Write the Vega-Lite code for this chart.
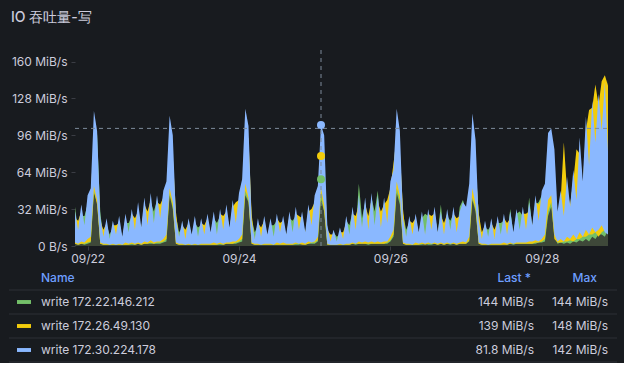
{
  "$schema": "https://vega.github.io/schema/vega-lite/v6.json",
  "background": "#181b1f",
  "padding": {"left": 8, "top": 10, "right": 8, "bottom": 0},
  "autosize": {"type": "pad"},
  "title": {"text": "IO 吞吐量-写", "anchor": "start", "frame": "group", "fontSize": 14, "fontWeight": 500, "color": "#ccccdc", "font": "Inter", "offset": 25, "dx": 2},
  "config": {"font": "Inter", "view": {"stroke": null}},
  "bounds": "flush",
  "spacing": 20,
  "vconcat": [
    {
      "width": 608,
      "height": 196,
      "data": {
        "format": {"parse": {"t": "date:'%m/%d %H'"}},
        "values": [
          {"t":"09/21 20","b":30,"bl":3,"y":24,"yl":2,"g":34,"gl":2},
          {"t":"09/21 21","b":14,"bl":2,"y":22,"yl":1,"g":12,"gl":1},
          {"t":"09/21 22","b":36,"bl":4,"y":30,"yl":2,"g":26,"gl":2},
          {"t":"09/21 23","b":18,"bl":3,"y":16,"yl":2,"g":26,"gl":1},
          {"t":"09/22 00","b":44,"bl":6,"y":38,"yl":3,"g":36,"gl":2},
          {"t":"09/22 01","b":50,"bl":8,"y":46,"yl":4,"g":42,"gl":3},
          {"t":"09/22 02","b":117,"bl":52,"y":92,"yl":48,"g":70,"gl":46},
          {"t":"09/22 03","b":100,"bl":40,"y":84,"yl":36,"g":97,"gl":38},
          {"t":"09/22 04","b":26,"bl":3,"y":22,"yl":2,"g":30,"gl":2},
          {"t":"09/22 05","b":8,"bl":2,"y":14,"yl":1,"g":6,"gl":1},
          {"t":"09/22 06","b":24,"bl":2,"y":20,"yl":1,"g":18,"gl":1},
          {"t":"09/22 07","b":6,"bl":1,"y":4,"yl":1,"g":10,"gl":1},
          {"t":"09/22 08","b":22,"bl":2,"y":18,"yl":1,"g":16,"gl":1},
          {"t":"09/22 09","b":10,"bl":1,"y":18,"yl":1,"g":8,"gl":1},
          {"t":"09/22 10","b":26,"bl":2,"y":20,"yl":1,"g":22,"gl":1},
          {"t":"09/22 11","b":8,"bl":1,"y":6,"yl":1,"g":6,"gl":1},
          {"t":"09/22 12","b":28,"bl":3,"y":24,"yl":1,"g":20,"gl":1},
          {"t":"09/22 13","b":12,"bl":2,"y":10,"yl":1,"g":20,"gl":1},
          {"t":"09/22 14","b":32,"bl":3,"y":28,"yl":2,"g":26,"gl":1},
          {"t":"09/22 15","b":14,"bl":2,"y":24,"yl":1,"g":12,"gl":1},
          {"t":"09/22 16","b":38,"bl":3,"y":30,"yl":2,"g":32,"gl":2},
          {"t":"09/22 17","b":16,"bl":2,"y":14,"yl":1,"g":12,"gl":1},
          {"t":"09/22 18","b":42,"bl":4,"y":36,"yl":2,"g":34,"gl":2},
          {"t":"09/22 19","b":18,"bl":3,"y":30,"yl":2,"g":16,"gl":2},
          {"t":"09/22 20","b":46,"bl":5,"y":40,"yl":3,"g":38,"gl":2},
          {"t":"09/22 21","b":20,"bl":3,"y":18,"yl":2,"g":30,"gl":2},
          {"t":"09/22 22","b":44,"bl":4,"y":38,"yl":3,"g":40,"gl":2},
          {"t":"09/22 23","b":24,"bl":4,"y":36,"yl":3,"g":22,"gl":2},
          {"t":"09/23 00","b":48,"bl":6,"y":42,"yl":4,"g":40,"gl":3},
          {"t":"09/23 01","b":56,"bl":10,"y":50,"yl":6,"g":46,"gl":4},
          {"t":"09/23 02","b":113,"bl":50,"y":89,"yl":46,"g":80,"gl":44},
          {"t":"09/23 03","b":96,"bl":38,"y":78,"yl":34,"g":66,"gl":32},
          {"t":"09/23 04","b":24,"bl":3,"y":30,"yl":2,"g":26,"gl":2},
          {"t":"09/23 05","b":8,"bl":2,"y":6,"yl":1,"g":12,"gl":1},
          {"t":"09/23 06","b":22,"bl":2,"y":18,"yl":1,"g":16,"gl":1},
          {"t":"09/23 07","b":6,"bl":1,"y":14,"yl":1,"g":4,"gl":1},
          {"t":"09/23 08","b":24,"bl":2,"y":20,"yl":1,"g":18,"gl":1},
          {"t":"09/23 09","b":10,"bl":1,"y":8,"yl":1,"g":8,"gl":1},
          {"t":"09/23 10","b":26,"bl":2,"y":22,"yl":1,"g":20,"gl":1},
          {"t":"09/23 11","b":8,"bl":1,"y":6,"yl":1,"g":16,"gl":1},
          {"t":"09/23 12","b":24,"bl":2,"y":20,"yl":1,"g":18,"gl":1},
          {"t":"09/23 13","b":10,"bl":2,"y":18,"yl":1,"g":8,"gl":1},
          {"t":"09/23 14","b":28,"bl":2,"y":24,"yl":1,"g":22,"gl":1},
          {"t":"09/23 15","b":12,"bl":2,"y":10,"yl":1,"g":10,"gl":1},
          {"t":"09/23 16","b":30,"bl":3,"y":26,"yl":1,"g":24,"gl":1},
          {"t":"09/23 17","b":10,"bl":2,"y":8,"yl":1,"g":20,"gl":1},
          {"t":"09/23 18","b":32,"bl":3,"y":28,"yl":2,"g":26,"gl":1},
          {"t":"09/23 19","b":14,"bl":2,"y":26,"yl":1,"g":12,"gl":1},
          {"t":"09/23 20","b":36,"bl":3,"y":30,"yl":2,"g":30,"gl":2},
          {"t":"09/23 21","b":16,"bl":3,"y":14,"yl":2,"g":14,"gl":2},
          {"t":"09/23 22","b":40,"bl":4,"y":34,"yl":2,"g":32,"gl":2},
          {"t":"09/23 23","b":20,"bl":4,"y":38,"yl":3,"g":18,"gl":2},
          {"t":"09/24 00","b":46,"bl":6,"y":40,"yl":4,"g":38,"gl":3},
          {"t":"09/24 01","b":58,"bl":10,"y":50,"yl":6,"g":46,"gl":4},
          {"t":"09/24 02","b":119,"bl":54,"y":88,"yl":48,"g":72,"gl":44},
          {"t":"09/24 03","b":104,"bl":42,"y":94,"yl":40,"g":84,"gl":38},
          {"t":"09/24 04","b":22,"bl":3,"y":28,"yl":2,"g":24,"gl":2},
          {"t":"09/24 05","b":6,"bl":2,"y":4,"yl":1,"g":12,"gl":1},
          {"t":"09/24 06","b":24,"bl":2,"y":20,"yl":1,"g":18,"gl":1},
          {"t":"09/24 07","b":8,"bl":1,"y":16,"yl":1,"g":6,"gl":1},
          {"t":"09/24 08","b":26,"bl":2,"y":22,"yl":1,"g":20,"gl":1},
          {"t":"09/24 09","b":10,"bl":2,"y":8,"yl":1,"g":8,"gl":1},
          {"t":"09/24 10","b":24,"bl":2,"y":20,"yl":1,"g":18,"gl":1},
          {"t":"09/24 11","b":8,"bl":1,"y":6,"yl":1,"g":18,"gl":1},
          {"t":"09/24 12","b":28,"bl":3,"y":24,"yl":1,"g":22,"gl":1},
          {"t":"09/24 13","b":12,"bl":2,"y":20,"yl":1,"g":10,"gl":1},
          {"t":"09/24 14","b":26,"bl":3,"y":22,"yl":1,"g":20,"gl":1},
          {"t":"09/24 15","b":10,"bl":2,"y":8,"yl":1,"g":8,"gl":1},
          {"t":"09/24 16","b":30,"bl":2,"y":26,"yl":1,"g":24,"gl":1},
          {"t":"09/24 17","b":12,"bl":2,"y":10,"yl":1,"g":22,"gl":1},
          {"t":"09/24 18","b":34,"bl":3,"y":28,"yl":2,"g":26,"gl":1},
          {"t":"09/24 19","b":14,"bl":2,"y":26,"yl":2,"g":12,"gl":1},
          {"t":"09/24 20","b":30,"bl":3,"y":24,"yl":1,"g":26,"gl":2},
          {"t":"09/24 21","b":12,"bl":2,"y":10,"yl":1,"g":10,"gl":1},
          {"t":"09/24 22","b":36,"bl":4,"y":30,"yl":2,"g":28,"gl":2},
          {"t":"09/24 23","b":18,"bl":3,"y":32,"yl":3,"g":16,"gl":2},
          {"t":"09/25 00","b":44,"bl":4,"y":38,"yl":3,"g":34,"gl":2},
          {"t":"09/25 01","b":52,"bl":8,"y":46,"yl":5,"g":42,"gl":4},
          {"t":"09/25 02","b":105,"bl":50,"y":78,"yl":46,"g":58,"gl":40},
          {"t":"09/25 03","b":96,"bl":36,"y":70,"yl":30,"g":52,"gl":30},
          {"t":"09/25 04","b":18,"bl":2,"y":14,"yl":1,"g":12,"gl":1},
          {"t":"09/25 05","b":4,"bl":1,"y":10,"yl":1,"g":3,"gl":1},
          {"t":"09/25 06","b":14,"bl":1,"y":10,"yl":1,"g":12,"gl":1},
          {"t":"09/25 07","b":4,"bl":1,"y":3,"yl":1,"g":8,"gl":1},
          {"t":"09/25 08","b":16,"bl":2,"y":12,"yl":1,"g":10,"gl":1},
          {"t":"09/25 09","b":6,"bl":1,"y":12,"yl":1,"g":4,"gl":1},
          {"t":"09/25 10","b":26,"bl":2,"y":20,"yl":1,"g":22,"gl":1},
          {"t":"09/25 11","b":10,"bl":2,"y":8,"yl":1,"g":18,"gl":1},
          {"t":"09/25 12","b":34,"bl":3,"y":28,"yl":2,"g":30,"gl":2},
          {"t":"09/25 13","b":14,"bl":2,"y":26,"yl":2,"g":12,"gl":1},
          {"t":"09/25 14","b":44,"bl":4,"y":36,"yl":2,"g":54,"gl":2},
          {"t":"09/25 15","b":16,"bl":3,"y":14,"yl":2,"g":24,"gl":2},
          {"t":"09/25 16","b":42,"bl":4,"y":36,"yl":2,"g":38,"gl":2},
          {"t":"09/25 17","b":14,"bl":3,"y":26,"yl":2,"g":12,"gl":1},
          {"t":"09/25 18","b":46,"bl":4,"y":40,"yl":2,"g":42,"gl":2},
          {"t":"09/25 19","b":18,"bl":3,"y":16,"yl":2,"g":30,"gl":2},
          {"t":"09/25 20","b":44,"bl":4,"y":38,"yl":2,"g":48,"gl":2},
          {"t":"09/25 21","b":16,"bl":3,"y":30,"yl":2,"g":14,"gl":2},
          {"t":"09/25 22","b":42,"bl":4,"y":36,"yl":2,"g":38,"gl":2},
          {"t":"09/25 23","b":20,"bl":4,"y":40,"yl":3,"g":18,"gl":2},
          {"t":"09/26 00","b":56,"bl":8,"y":50,"yl":5,"g":42,"gl":4},
          {"t":"09/26 01","b":66,"bl":14,"y":72,"yl":10,"g":54,"gl":8},
          {"t":"09/26 02","b":119,"bl":56,"y":94,"yl":50,"g":85,"gl":46},
          {"t":"09/26 03","b":100,"bl":44,"y":82,"yl":40,"g":74,"gl":36},
          {"t":"09/26 04","b":24,"bl":3,"y":32,"yl":2,"g":28,"gl":2},
          {"t":"09/26 05","b":8,"bl":2,"y":6,"yl":1,"g":14,"gl":1},
          {"t":"09/26 06","b":26,"bl":2,"y":22,"yl":1,"g":20,"gl":1},
          {"t":"09/26 07","b":10,"bl":1,"y":20,"yl":1,"g":8,"gl":1},
          {"t":"09/26 08","b":28,"bl":3,"y":24,"yl":1,"g":22,"gl":1},
          {"t":"09/26 09","b":12,"bl":2,"y":10,"yl":1,"g":10,"gl":1},
          {"t":"09/26 10","b":30,"bl":3,"y":26,"yl":2,"g":24,"gl":1},
          {"t":"09/26 11","b":10,"bl":2,"y":8,"yl":1,"g":28,"gl":2},
          {"t":"09/26 12","b":32,"bl":3,"y":28,"yl":2,"g":26,"gl":1},
          {"t":"09/26 13","b":14,"bl":2,"y":26,"yl":2,"g":12,"gl":1},
          {"t":"09/26 14","b":34,"bl":3,"y":28,"yl":2,"g":30,"gl":2},
          {"t":"09/26 15","b":12,"bl":2,"y":10,"yl":1,"g":10,"gl":1},
          {"t":"09/26 16","b":30,"bl":3,"y":26,"yl":2,"g":36,"gl":2},
          {"t":"09/26 17","b":10,"bl":2,"y":20,"yl":1,"g":8,"gl":1},
          {"t":"09/26 18","b":32,"bl":3,"y":28,"yl":2,"g":26,"gl":2},
          {"t":"09/26 19","b":14,"bl":2,"y":12,"yl":2,"g":22,"gl":1},
          {"t":"09/26 20","b":34,"bl":3,"y":28,"yl":2,"g":28,"gl":2},
          {"t":"09/26 21","b":12,"bl":2,"y":24,"yl":1,"g":10,"gl":1},
          {"t":"09/26 22","b":30,"bl":3,"y":26,"yl":2,"g":34,"gl":2},
          {"t":"09/26 23","b":38,"bl":4,"y":32,"yl":2,"g":40,"gl":2},
          {"t":"09/27 00","b":34,"bl":3,"y":28,"yl":2,"g":30,"gl":2},
          {"t":"09/27 01","b":54,"bl":8,"y":46,"yl":5,"g":44,"gl":4},
          {"t":"09/27 02","b":115,"bl":50,"y":78,"yl":42,"g":70,"gl":40},
          {"t":"09/27 03","b":92,"bl":36,"y":70,"yl":32,"g":64,"gl":30},
          {"t":"09/27 04","b":22,"bl":3,"y":28,"yl":2,"g":30,"gl":2},
          {"t":"09/27 05","b":6,"bl":2,"y":12,"yl":1,"g":4,"gl":1},
          {"t":"09/27 06","b":22,"bl":2,"y":18,"yl":1,"g":16,"gl":1},
          {"t":"09/27 07","b":8,"bl":1,"y":6,"yl":1,"g":14,"gl":1},
          {"t":"09/27 08","b":24,"bl":2,"y":20,"yl":1,"g":18,"gl":1},
          {"t":"09/27 09","b":6,"bl":2,"y":14,"yl":1,"g":4,"gl":1},
          {"t":"09/27 10","b":26,"bl":2,"y":22,"yl":1,"g":20,"gl":1},
          {"t":"09/27 11","b":10,"bl":2,"y":8,"yl":1,"g":20,"gl":1},
          {"t":"09/27 12","b":28,"bl":3,"y":24,"yl":1,"g":22,"gl":2},
          {"t":"09/27 13","b":10,"bl":2,"y":20,"yl":1,"g":8,"gl":1},
          {"t":"09/27 14","b":30,"bl":3,"y":24,"yl":2,"g":32,"gl":2},
          {"t":"09/27 15","b":12,"bl":2,"y":10,"yl":2,"g":10,"gl":1},
          {"t":"09/27 16","b":32,"bl":3,"y":26,"yl":2,"g":28,"gl":2},
          {"t":"09/27 17","b":14,"bl":3,"y":12,"yl":2,"g":30,"gl":2},
          {"t":"09/27 18","b":34,"bl":3,"y":28,"yl":2,"g":26,"gl":2},
          {"t":"09/27 19","b":14,"bl":3,"y":28,"yl":2,"g":12,"gl":2},
          {"t":"09/27 20","b":38,"bl":4,"y":30,"yl":2,"g":42,"gl":2},
          {"t":"09/27 21","b":18,"bl":4,"y":16,"yl":2,"g":16,"gl":2},
          {"t":"09/27 22","b":44,"bl":5,"y":38,"yl":3,"g":36,"gl":2},
          {"t":"09/27 23","b":22,"bl":4,"y":36,"yl":3,"g":38,"gl":3},
          {"t":"09/28 00","b":48,"bl":6,"y":42,"yl":4,"g":44,"gl":3},
          {"t":"09/28 01","b":54,"bl":10,"y":48,"yl":6,"g":42,"gl":4},
          {"t":"09/28 02","b":98,"bl":40,"y":72,"yl":30,"g":60,"gl":26},
          {"t":"09/28 03","b":102,"bl":44,"y":89,"yl":38,"g":77,"gl":34},
          {"t":"09/28 04","b":84,"bl":10,"y":44,"yl":6,"g":56,"gl":8},
          {"t":"09/28 05","b":30,"bl":4,"y":26,"yl":3,"g":24,"gl":2},
          {"t":"09/28 06","b":48,"bl":6,"y":40,"yl":3,"g":36,"gl":3},
          {"t":"09/28 07","b":26,"bl":4,"y":90,"yl":4,"g":22,"gl":2},
          {"t":"09/28 08","b":60,"bl":8,"y":48,"yl":4,"g":50,"gl":3},
          {"t":"09/28 09","b":34,"bl":6,"y":36,"yl":5,"g":30,"gl":2},
          {"t":"09/28 10","b":66,"bl":10,"y":56,"yl":4,"g":60,"gl":4},
          {"t":"09/28 11","b":40,"bl":6,"y":84,"yl":6,"g":36,"gl":3},
          {"t":"09/28 12","b":94,"bl":12,"y":80,"yl":6,"g":70,"gl":5},
          {"t":"09/28 13","b":56,"bl":8,"y":52,"yl":8,"g":50,"gl":4},
          {"t":"09/28 14","b":112,"bl":14,"y":100,"yl":8,"g":84,"gl":6},
          {"t":"09/28 15","b":70,"bl":10,"y":118,"yl":10,"g":60,"gl":4},
          {"t":"09/28 16","b":126,"bl":16,"y":120,"yl":10,"g":110,"gl":8},
          {"t":"09/28 17","b":90,"bl":12,"y":140,"yl":12,"g":80,"gl":6},
          {"t":"09/28 18","b":132,"bl":14,"y":122,"yl":8,"g":124,"gl":10},
          {"t":"09/28 19","b":100,"bl":18,"y":143,"yl":12,"g":130,"gl":10},
          {"t":"09/28 20","b":142,"bl":12,"y":148,"yl":14,"g":96,"gl":8},
          {"t":"09/28 21","b":81.8,"bl":10,"y":139,"yl":12,"g":144,"gl":14}
        ]
      },
      "layer": [
        {
          "mark": {"type": "area", "opacity": 0.1, "color": "#73BF69"},
          "encoding": {
            "x": {
              "field": "t", "type": "temporal",
              "scale": {
                "domain": [{"year": 1900, "month": 9, "date": 21, "hours": 20}, {"year": 1900, "month": 9, "date": 28, "hours": 21}],
                "range": [66, 599]
              },
              "axis": {
                "values": [{"year": 1900, "month": 9, "date": 22}, {"year": 1900, "month": 9, "date": 24}, {"year": 1900, "month": 9, "date": 26}, {"year": 1900, "month": 9, "date": 28}],
                "format": "%m/%d", "title": null, "domain": false, "grid": false, "tickCount": 20,
                "labelColor": "#ccccdc", "labelFontSize": 12, "labelFont": "Inter", "labelOverlap": false,
                "tickColor": "#3a3d44", "tickSize": 4, "labelPadding": 3, "labelFlush": false
              }
            },
            "y": {
              "field": "g", "type": "quantitative",
              "scale": {"domain": [0, 170], "nice": false, "zero": true},
              "axis": {
                "values": [0, 32, 64, 96, 128, 160], "tickCount": 12,
                "labelExpr": "datum.value == 0 ? '0 B/s' : datum.value + ' MiB/s'",
                "offset": -66, "title": null, "domain": false, "grid": false,
                "labelColor": "#ccccdc", "labelFontSize": 12, "labelFont": "Inter", "labelOverlap": false,
                "tickColor": "#3a3d44", "tickSize": 4, "labelPadding": 4
              }
            }
          }
        },
        {
          "mark": {"type": "area", "opacity": 0.1, "color": "#F2CC0C"},
          "encoding": {"x": {"field": "t", "type": "temporal"}, "y": {"field": "y", "type": "quantitative"}}
        },
        {
          "mark": {"type": "area", "opacity": 0.1, "color": "#8AB8FF"},
          "encoding": {"x": {"field": "t", "type": "temporal"}, "y": {"field": "b", "type": "quantitative"}}
        },
        {
          "mark": {"type": "area", "opacity": 1, "color": "#73BF69"},
          "encoding": {"x": {"field": "t", "type": "temporal"}, "y": {"field": "g", "type": "quantitative"}, "y2": {"field": "gl"}}
        },
        {
          "mark": {"type": "area", "opacity": 1, "color": "#F2CC0C"},
          "encoding": {"x": {"field": "t", "type": "temporal"}, "y": {"field": "y", "type": "quantitative"}, "y2": {"field": "yl"}}
        },
        {
          "mark": {"type": "area", "opacity": 1, "color": "#8AB8FF"},
          "encoding": {"x": {"field": "t", "type": "temporal"}, "y": {"field": "b", "type": "quantitative"}, "y2": {"field": "bl"}}
        },
        {
          "data": {"format": {"parse": {"t": "date:'%m/%d %H'"}}, "values": [{"t": "09/25 02"}]},
          "mark": {"type": "rule", "color": "#7d8b9b", "strokeDash": [4, 4], "strokeWidth": 1},
          "encoding": {"x": {"field": "t", "type": "temporal"}}
        },
        {
          "data": {"values": [{"v": 102}]},
          "mark": {"type": "rule", "color": "#7d8b9b", "strokeDash": [4, 4], "strokeWidth": 1},
          "encoding": {
            "y": {"field": "v", "type": "quantitative"},
            "x": {"datum": {"year": 1900, "month": 9, "date": 21, "hours": 20}, "type": "temporal"},
            "x2": {"datum": {"year": 1900, "month": 9, "date": 28, "hours": 21}}
          }
        },
        {
          "data": {"format": {"parse": {"t": "date:'%m/%d %H'"}}, "values": [
            {"t": "09/25 02", "k": "g", "v": 58},
            {"t": "09/25 02", "k": "y", "v": 78},
            {"t": "09/25 02", "k": "b", "v": 105}
          ]},
          "mark": {"type": "point", "filled": true, "size": 64, "opacity": 1},
          "encoding": {
            "x": {"field": "t", "type": "temporal"},
            "y": {"field": "v", "type": "quantitative"},
            "color": {"field": "k", "type": "nominal", "scale": {"domain": ["g", "y", "b"], "range": ["#73BF69", "#F2CC0C", "#8AB8FF"]}, "legend": null}
          }
        }
      ]
    },
    {
      "width": 608,
      "height": 96,
      "data": {"values": [
        {"r": "g", "name": "write 172.22.146.212", "last": "144 MiB/s", "max": "144 MiB/s"},
        {"r": "y", "name": "write 172.26.49.130", "last": "139 MiB/s", "max": "148 MiB/s"},
        {"r": "b", "name": "write 172.30.224.178", "last": "81.8 MiB/s", "max": "142 MiB/s"}
      ]},
      "layer": [
        {
          "data": {"values": [{"r": "h"}, {"r": "g"}, {"r": "y"}, {"r": "b"}]},
          "mark": {"type": "rule", "color": "#2c3036", "strokeWidth": 1},
          "encoding": {
            "y": {"field": "r", "type": "nominal", "bandPosition": 1, "scale": {"type": "band", "domain": ["h", "g", "y", "b"], "paddingInner": 0, "paddingOuter": 0}, "axis": null}
          }
        },
        {
          "data": {"values": [{"r": "h", "c": "name", "t": "Name"}]},
          "mark": {"type": "text", "align": "left", "baseline": "middle", "color": "#6E9FFF", "fontSize": 12, "fontWeight": 500},
          "encoding": {
            "y": {"field": "r", "type": "nominal", "bandPosition": 0.5, "scale": {"type": "band", "domain": ["h", "g", "y", "b"], "paddingInner": 0, "paddingOuter": 0}, "axis": null},
            "x": {"field": "c", "type": "nominal", "scale": {"type": "point", "domain": ["sw", "name"], "range": [15, 32], "padding": 0}, "axis": null},
            "text": {"field": "t"}
          }
        },
        {
          "data": {"values": [{"r": "h", "c": "last", "t": "Last *"}, {"r": "h", "c": "max", "t": "Max"}]},
          "mark": {"type": "text", "align": "right", "baseline": "middle", "color": "#6E9FFF", "fontSize": 12, "fontWeight": 500},
          "encoding": {
            "y": {"field": "r", "type": "nominal", "bandPosition": 0.5, "scale": {"type": "band", "domain": ["h", "g", "y", "b"], "paddingInner": 0, "paddingOuter": 0}, "axis": null},
            "x": {"field": "c", "type": "nominal", "scale": {"type": "point", "domain": ["last", "max"], "range": [522, 588], "padding": 0}, "axis": null},
            "text": {"field": "t"}
          }
        },
        {
          "mark": {"type": "point", "filled": true, "opacity": 1, "size": 196, "shape": "M-1,-0.28L1,-0.28L1,0.28L-1,0.28Z", "strokeWidth": 0},
          "encoding": {
            "y": {"field": "r", "type": "nominal", "bandPosition": 0.5, "scale": {"type": "band", "domain": ["h", "g", "y", "b"], "paddingInner": 0, "paddingOuter": 0}, "axis": null},
            "x": {"datum": "sw", "type": "nominal", "scale": {"type": "point", "domain": ["sw", "name"], "range": [15, 32], "padding": 0}, "axis": null},
            "color": {"field": "r", "type": "nominal", "scale": {"domain": ["g", "y", "b"], "range": ["#73BF69", "#F2CC0C", "#8AB8FF"]}, "legend": null}
          }
        },
        {
          "mark": {"type": "text", "align": "left", "baseline": "middle", "color": "#ccccdc", "fontSize": 12},
          "encoding": {
            "y": {"field": "r", "type": "nominal", "bandPosition": 0.5, "scale": {"type": "band", "domain": ["h", "g", "y", "b"], "paddingInner": 0, "paddingOuter": 0}, "axis": null},
            "x": {"datum": "name", "type": "nominal", "scale": {"type": "point", "domain": ["sw", "name"], "range": [15, 32], "padding": 0}, "axis": null},
            "text": {"field": "name"}
          }
        },
        {
          "transform": [{"fold": ["last", "max"], "as": ["c", "val"]}],
          "mark": {"type": "text", "align": "right", "baseline": "middle", "color": "#ccccdc", "fontSize": 12},
          "encoding": {
            "y": {"field": "r", "type": "nominal", "bandPosition": 0.5, "scale": {"type": "band", "domain": ["h", "g", "y", "b"], "paddingInner": 0, "paddingOuter": 0}, "axis": null},
            "x": {"field": "c", "type": "nominal", "scale": {"type": "point", "domain": ["last", "max"], "range": [525, 599], "padding": 0}, "axis": null},
            "text": {"field": "val"}
          }
        }
      ],
      "resolve": {"scale": {"x": "independent"}}
    }
  ]
}
